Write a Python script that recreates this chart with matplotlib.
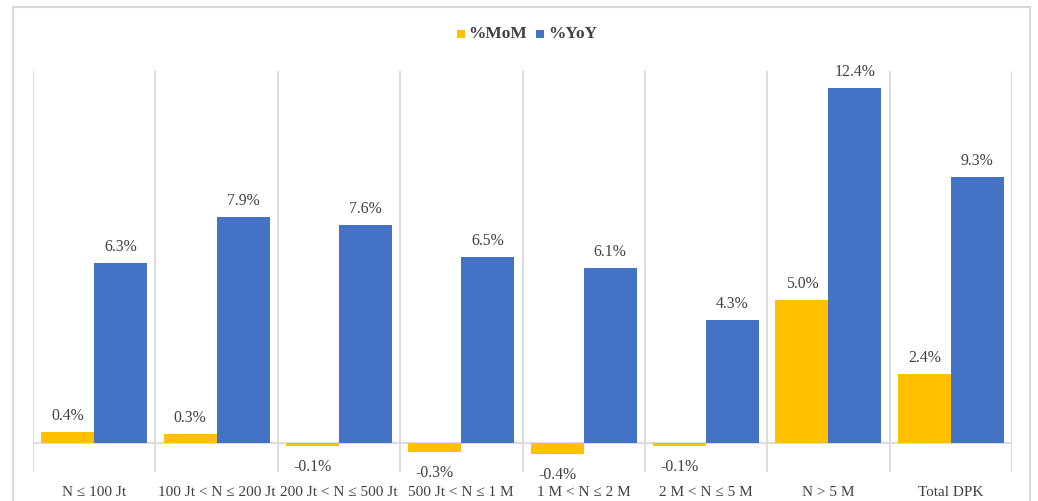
import matplotlib
matplotlib.use("Agg")
import matplotlib.pyplot as plt
from matplotlib.patches import Rectangle
import numpy as np

categories = ["N ≤ 100 Jt", "100 Jt < N ≤ 200 Jt", "200 Jt < N ≤ 500 Jt", "500 Jt < N ≤ 1 M",
              "1 M < N ≤ 2 M", "2 M < N ≤ 5 M", "N > 5 M", "Total DPK"]
mom = [0.4, 0.3, -0.1, -0.3, -0.4, -0.1, 5.0, 2.4]
yoy = [6.3, 7.9, 7.6, 6.5, 6.1, 4.3, 12.4, 9.3]
series_names = ["%MoM", "%YoY"]

YELLOW = "#FFC000"
BLUE = "#4472C4"
GRID = "#D9D9D9"
TXT = "#404040"
SERIF = ["Liberation Serif", "DejaVu Serif"]

W, H = 1038, 501
fig = plt.figure(figsize=(W / 100, H / 100), dpi=100)
ax = fig.add_axes([33 / W, 1 - 472 / H, (1012 - 33) / W, (472 - 71) / H])

x = np.arange(len(categories))
bw = 0.433
ax.bar(x - bw / 2, mom, width=bw, color=YELLOW, zorder=3)
ax.bar(x + bw / 2, yoy, width=bw, color=BLUE, zorder=3)

ax.set_xlim(-0.5, len(categories) - 0.5)
ax.set_ylim(-1.013, 12.99)
for k in range(len(categories) + 1):
    ax.axvline(k - 0.5, color=GRID, lw=1.3, zorder=1)
ax.axhline(0, color=GRID, lw=1.3, zorder=2)
for s in ax.spines.values():
    s.set_visible(False)
ax.set_xticks([])
ax.set_yticks([])

def label(xv, v):
    off = 16 if v >= 0 else -21
    ax.annotate(f"{v:.1f}%", (xv, v), xytext=(0, off), textcoords="offset pixels",
                ha="center", va="center", fontsize=11.3, color=TXT, family=SERIF)

for i in range(len(categories)):
    label(x[i] - bw / 2, mom[i])
    label(x[i] + bw / 2, yoy[i])
    ax.annotate(categories[i], (x[i], 0), xycoords=("data", "axes fraction"),
                xytext=(0, -21), textcoords="offset pixels", ha="center", va="center",
                fontsize=11, color=TXT, family=SERIF)

# outer border
fig.patches.append(Rectangle((13 / W, -0.1), (1030 - 13) / W, 1.1 - 6.5 / H,
                             transform=fig.transFigure, fill=False, edgecolor=GRID,
                             lw=1.5, clip_on=False))

# legend
ly = 1 - 34 / H
fig.patches.append(Rectangle((457 / W, 1 - 38 / H), 8 / W, 8 / H, transform=fig.transFigure,
                             facecolor=YELLOW, edgecolor="none"))
fig.text(468 / W, ly, series_names[0], ha="left", va="center", fontsize=12.5,
         fontweight="bold", color=TXT, family=SERIF)
fig.patches.append(Rectangle((536 / W, 1 - 38 / H), 8 / W, 8 / H, transform=fig.transFigure,
                             facecolor=BLUE, edgecolor="none"))
fig.text(548 / W, ly, series_names[1], ha="left", va="center", fontsize=12.5,
         fontweight="bold", color=TXT, family=SERIF)

fig.savefig("out.png", dpi=100, facecolor="white")
